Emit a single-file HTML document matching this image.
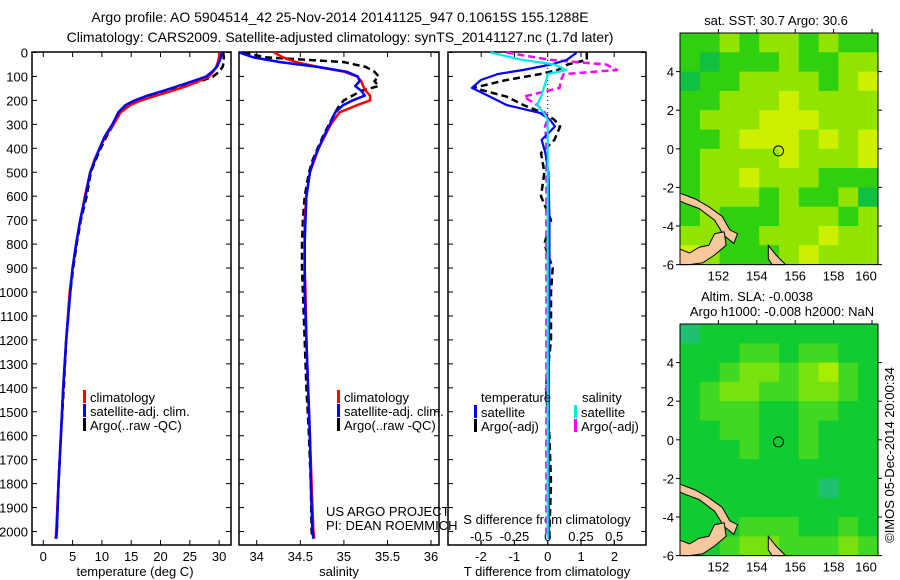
<!DOCTYPE html>
<html><head><meta charset="utf-8">
<style>
html,body{margin:0;padding:0;background:#fff;}
svg{display:block;font-family:"Liberation Sans",sans-serif;}
text{fill:#000;}
</style></head>
<body>
<svg id="fig" width="900" height="580" viewBox="0 0 900 580" xmlns="http://www.w3.org/2000/svg">
<text x="340" y="22" font-size="14" text-anchor="middle">Argo profile: AO 5904514_42 25-Nov-2014 20141125_947 0.10615S 155.1288E</text>
<text x="340" y="42" font-size="14" text-anchor="middle">Climatology: CARS2009. Satellite-adjusted climatology: synTS_20141127.nc (1.7d later)</text>
<g id="g"></g>
</svg>
<script>
// ===== profile data =====
const depths = [0,20,40,60,80,100,120,140,160,180,200,220,250,300,350,400,450,500,600,700,800,900,1000,1200,1400,1600,1800,2000,2030];
const tempClim = [30.0,30.0,29.8,29.5,29.0,28.3,26.5,24.5,22.0,19.3,16.7,14.8,13.2,12.0,10.6,9.6,8.7,8.0,7.1,6.3,5.6,5.0,4.5,3.9,3.4,3.0,2.6,2.2,2.1];
const tempSat = [30.5,30.3,30.0,29.6,28.8,27.8,25.5,23.0,20.5,17.8,15.6,14.0,12.8,11.8,10.5,9.6,8.8,8.0,7.2,6.3,5.6,5.0,4.6,3.9,3.4,3.0,2.6,2.3,2.2];
const tempArgo = [30.7,30.8,30.8,30.6,30.0,29.0,26.8,24.0,21.5,18.5,16.0,14.2,13.0,12.0,10.8,9.8,8.9,8.1,7.4,6.4,5.7,5.1,4.6,3.9,3.5,3.0,2.6,2.3,2.2];
const salClim = [34.2,34.3,34.45,34.7,35.0,35.15,35.2,35.22,35.25,35.3,35.3,35.15,34.95,34.85,34.78,34.71,34.66,34.61,34.57,34.55,34.55,34.55,34.56,34.57,34.59,34.61,34.63,34.65,34.66];
const salSat = [33.8,33.96,34.27,34.7,35.03,35.16,35.18,35.13,35.2,35.24,35.1,34.99,34.9,34.84,34.77,34.71,34.65,34.61,34.57,34.56,34.55,34.55,34.55,34.57,34.59,34.61,34.62,34.64,34.65];
const salArgo = [33.85,34.1,35.0,35.25,35.35,35.4,35.35,35.4,35.2,35.1,35.0,34.95,34.9,34.83,34.76,34.7,34.64,34.6,34.55,34.53,34.52,34.52,34.53,34.55,34.57,34.6,34.62,34.63,34.64];
// difference panel
const diffDepths = [0,31,50,73,90,115,148,184,219,252,281,309,365,420,500,600,700,800,900,1000,1200,1400,1600,1800,2000,2030];
const tDiffSat = [0.87,0.57,0.1,-0.74,-1.5,-2.0,-2.27,-1.73,-1.23,-0.23,0.07,0.22,-0.18,-0.07,0.02,0.04,0.05,0.05,0.05,0.05,0.04,0.03,0.03,0.03,0.03,0.03];
const tDiffArgo = [1.17,1.17,0.6,0.3,-0.23,-1.23,-2.23,-1.23,-0.73,-0.13,0.2,0.37,0.2,-0.2,-0.1,-0.2,0.1,-0.1,0.15,0.1,0.1,-0.05,0.05,0.1,0.05,0.05];
const sDiffSat = [-0.43,-0.19,0.05,0.14,0.0,-0.01,-0.03,-0.05,-0.08,-0.03,0.0,0.0,0.0,0.0,0.0,0.0,0.0,0.0,0.0,0.0,0.0,0.0,0.0,0.0,0.0,0.0];
const sDiffArgo = [-0.31,0.02,0.44,0.52,0.12,0.1,0.09,-0.18,-0.08,-0.02,0.0,-0.02,-0.01,-0.01,-0.01,-0.01,-0.01,-0.01,-0.01,-0.01,-0.01,-0.01,-0.01,-0.01,-0.01,-0.01];
// axis ticks
const depthTicks = [0,100,200,300,400,500,600,700,800,900,1000,1100,1200,1300,1400,1500,1600,1700,1800,1900,2000];
const tempTicks = [0,5,10,15,20,25,30];
const salTicks = [34,34.5,35,35.5,36];
const tDiffTicks = [-2,-1,0,1,2];
const sDiffTicks = [-0.5,-0.25,0,0.25,0.5];
const sDiffLabels = ["-0.5","-0.25","0","0.25","0.5"];
const latTicks = [4,2,0,-2,-4,-6];
const lonTicks = [152,154,156,158,160];
// map grids (rows north->south, cols west->east)
const sstGrid = [
[1,1,2,1,2,2,1,2,1,1],[1,0,1,1,1,2,1,1,2,2],[0,1,1,2,2,2,2,1,2,3],[1,1,2,2,2,3,2,2,2,2],
[1,2,2,2,3,3,3,2,2,2],[1,1,2,3,3,3,2,3,2,3],[1,2,2,2,2,3,2,2,2,3],[1,2,2,3,2,2,2,1,1,1],
[1,2,2,2,1,2,1,1,2,0],[1,2,1,1,1,2,2,2,1,2],[2,2,1,1,2,2,2,3,2,2],[3,2,1,1,1,2,3,2,2,2]];
const slaGrid = [
[0,1,1,1,1,1,1,1,1,1],[1,1,1,2,2,1,2,2,1,1],[1,1,2,3,3,2,3,4,2,1],[1,2,3,3,2,2,3,3,2,1],
[1,2,2,2,1,1,2,2,1,1],[1,1,2,2,1,1,2,1,1,1],[1,1,1,2,1,1,2,1,1,1],[1,1,1,1,1,1,1,1,1,1],
[1,1,1,1,1,1,1,0,1,1],[1,1,1,1,1,1,1,1,1,1],[1,1,1,2,2,2,1,1,2,1],[1,1,2,3,3,2,2,2,3,2]];
const sstColors = ["#10c040","#30d010","#90e400","#ccf000","#f0b000"];
const slaColors = ["#20c070","#10cc30","#40d820","#78e210","#a8ec00"];
const argoLon = 155.13, argoLat = -0.11;

const NS="http://www.w3.org/2000/svg";
const G=document.getElementById('g');
function el(tag,attrs,parent,txt){const e=document.createElementNS(NS,tag);for(const k in attrs)e.setAttribute(k,attrs[k]);if(txt!==undefined)e.textContent=txt;(parent||G).appendChild(e);return e;}

const Y0=52.5, YS=0.2395, PT=52, PB=545;
const yD=d=>Y0+d*YS;
const panels=[
 {x0:32,x1:231,name:'temperature-panel'},
 {x0:239,x1:439,name:'salinity-panel'},
 {x0:448,x1:646,name:'difference-panel'}];
const xT=v=>43.3+v*5.86;
const xS=v=>256.7+(v-34)*87.2;
const xTD=v=>547.7+v*33.4;
const xSD=v=>547.7+v*133;

function line(xs,ys,xf,color,w,dash,name){
  let p=xs.map((v,i)=>xf(v).toFixed(1)+','+yD(ys[i]).toFixed(1)).join(' ');
  const e=el('polyline',{points:p,fill:'none',stroke:color,'stroke-width':w,'stroke-dasharray':dash||'none','stroke-linejoin':'round'});
  
  
}

panels.forEach((p,pi)=>{
  const r=el('rect',{x:p.x0,y:PT,width:p.x1-p.x0,height:PB-PT,fill:'none',stroke:'#000','stroke-width':1.5});
  
  
  depthTicks.forEach(d=>{
    el('line',{x1:p.x0,x2:p.x0+5,y1:yD(d),y2:yD(d),stroke:'#000'});
    el('line',{x1:p.x1-5,x2:p.x1,y1:yD(d),y2:yD(d),stroke:'#000'});
  });
});
depthTicks.forEach(d=>{
  const t=el('text',{x:28,y:yD(d)+5,'font-size':13,'text-anchor':'end'},G,String(d));
  
  
});
function xticks(ticks,labels,xf,name,top){
  ticks.forEach((v,i)=>{
    const x=xf(v);
    el('line',{x1:x,x2:x,y1:PB-5,y2:PB,stroke:'#000'});
    if(top) el('line',{x1:x,x2:x,y1:PT,y2:PT+5,stroke:'#000'});
    const t=el('text',{x:x,y:561,'font-size':13,'text-anchor':'middle'},G,labels[i]);
    
    
  });
}
xticks(tempTicks,tempTicks.map(String),xT,'temperature-tick-label',true);
xticks(salTicks,salTicks.map(String),v=>Math.min(xS(v),431),'salinity-tick-label',true);
xticks(tDiffTicks,tDiffTicks.map(String),xTD,'t-diff-tick-label',false);
sDiffTicks.forEach((v,i)=>{
  const x=xSD(v);
  el('line',{x1:x,x2:x,y1:PT,y2:PT+5,stroke:'#000'});
  el('line',{x1:x,x2:x,y1:PB-5,y2:PB,stroke:'#000'});
  const t=el('text',{x:x,y:541,'font-size':13,'text-anchor':'middle'},G,sDiffLabels[i]);
  
  
});
[['temperature (deg C)',135,'temperature-axis-title'],['salinity',339,'salinity-axis-title'],['T difference from climatology',547,'t-diff-axis-title']].forEach(a=>{
  const t=el('text',{x:a[1],y:576,'font-size':13,'text-anchor':'middle'},G,a[0]);
  
  
});
const st=el('text',{x:547,y:524,'font-size':13,'text-anchor':'middle'},G,'S difference from climatology');



// zero dotted line
el('line',{x1:xTD(0),x2:xTD(0),y1:PT,y2:PB,stroke:'#000','stroke-dasharray':'1,3'});

// profile lines
line(tempArgo,depths,xT,'#000',2.5,'7,4','temperature-argo-line');
line(tempClim,depths,xT,'#ff0000',2.5,null,'temperature-climatology-line');
line(tempSat,depths,xT,'#0000ff',2.5,null,'temperature-satellite-line');
line(salArgo,depths,xS,'#000',2.5,'7,4','salinity-argo-line');
line(salClim,depths,xS,'#ff0000',2.5,null,'salinity-climatology-line');
line(salSat,depths,xS,'#0000ff',2.5,null,'salinity-satellite-line');
line(tDiffArgo,diffDepths,xTD,'#000',2.5,'7,4','t-diff-argo-line');
line(sDiffArgo,diffDepths,xSD,'#ff00ff',2.5,'7,4','s-diff-argo-line');
line(tDiffSat,diffDepths,xTD,'#0000ff',2.2,null,'t-diff-satellite-line');
line(sDiffSat,diffDepths,xSD,'#00e8e8',2.2,null,'s-diff-satellite-line');

// legends
function legend(x,y,color,label,name){
  el('rect',{x:x,y:y-10,width:3,height:13,fill:color});
  const t=el('text',{x:x+7,y:y+2,'font-size':13},G,label);
  
  
}
legend(83,400,'#ff0000','climatology','legend-temp-climatology');
legend(83,414,'#0000ff','satellite-adj. clim.','legend-temp-satellite');
legend(83,428,'#000','Argo(..raw -QC)','legend-temp-argo');
legend(337,400,'#ff0000','climatology','legend-sal-climatology');
legend(337,414,'#0000ff','satellite-adj. clim.','legend-sal-satellite');
legend(337,428,'#000','Argo(..raw -QC)','legend-sal-argo');
let lt=el('text',{x:481,y:402,'font-size':13},G,'temperature');

legend(474,415,'#0000ff','satellite','legend-tdiff-satellite');
legend(474,429,'#000','Argo(-adj)','legend-tdiff-argo');
lt=el('text',{x:582,y:402,'font-size':13},G,'salinity');

legend(574,415,'#00e8e8','satellite','legend-sdiff-satellite');
legend(574,429,'#ff00ff','Argo(-adj)','legend-sdiff-argo');
let cr=el('text',{x:326,y:516,'font-size':13},G,'US ARGO PROJECT');

cr=el('text',{x:326,y:530,'font-size':13},G,'PI: DEAN ROEMMICH');


// ===== maps =====
function drawMap(top,grid,colors,name){
  const mx0=680,mx1=878,lonS=19.2;
  const lx=lon=>mx0+(lon-150)*lonS;
  const ly=lat=>top+115.8-lat*19.3;
  const gg=el('g',{});
  
  
  const cw=(mx1-mx0)/grid[0].length, ch=(ly(-6)-ly(6))/grid.length;
  grid.forEach((row,ri)=>row.forEach((v,ci)=>{
    el('rect',{x:mx0+ci*cw,y:ly(6)+ri*ch,width:cw+0.5,height:ch+0.5,fill:colors[v]},gg);
  }));
  const lands=[
   [[150,-2.3],[150.8,-2.6],[151.5,-3],[152.2,-3.5],[152.6,-4.2],[153,-4.4],[152.8,-4.9],[152.3,-4.5],[151.8,-3.7],[151,-3.1],[150.2,-2.8],[150,-2.7]],
   [[150,-5.2],[150.5,-5.4],[151,-5.1],[151.5,-5.0],[151.8,-4.4],[152.3,-4.3],[152.4,-5.0],[151.8,-5.5],[151.2,-5.9],[150.5,-6],[150,-6]],
   [[154.6,-5.0],[155.0,-5.5],[155.5,-6],[154.8,-6],[154.6,-5.7]]];
  lands.forEach(L=>{
    const pl=el('polygon',{points:L.map(q=>lx(q[0]).toFixed(1)+','+ly(q[1]).toFixed(1)).join(' '),fill:'#f8c89c',stroke:'#000','stroke-width':1},gg);
    
    
  });
  el('rect',{x:mx0,y:ly(6),width:mx1-mx0,height:ly(-6)-ly(6),fill:'none',stroke:'#000'},gg);
  const c=el('circle',{cx:lx(argoLon),cy:ly(argoLat),r:5,fill:'none',stroke:'#000','stroke-width':1},gg);
  
  
  latTicks.forEach(l=>{
    el('line',{x1:mx0-4,x2:mx0,y1:ly(l),y2:ly(l),stroke:'#000'},gg);
    el('line',{x1:mx1,x2:mx1+4,y1:ly(l),y2:ly(l),stroke:'#000'},gg);
    const t=el('text',{x:674,y:ly(l)+5,'font-size':13,'text-anchor':'end'},gg,String(l));
    
    
  });
  lonTicks.forEach(l=>{
    el('line',{x1:lx(l),x2:lx(l),y1:ly(6)-4,y2:ly(6),stroke:'#000'},gg);
    const t=el('text',{x:Math.min(lx(l),866),y:ly(-6)+16,'font-size':13,'text-anchor':'middle'},gg,String(l));
    
    
  });
}
drawMap(33,sstGrid,sstColors,'sst-map');
drawMap(324,slaGrid,slaColors,'sla-map');
let mt=el('text',{x:776,y:25,'font-size':13,'text-anchor':'middle'},G,'sat. SST: 30.7 Argo: 30.6');

mt=el('text',{x:757,y:301,'font-size':13,'text-anchor':'middle'},G,'Altim. SLA: -0.0038');

mt=el('text',{x:782,y:316,'font-size':13,'text-anchor':'middle'},G,'Argo h1000: -0.008 h2000: NaN');

mt=el('text',{x:0,y:0,'font-size':13,'text-anchor':'middle',transform:'translate(894,455) rotate(-90)'},G,'©IMOS 05-Dec-2014 20:00:34');

</script>
</body></html>
